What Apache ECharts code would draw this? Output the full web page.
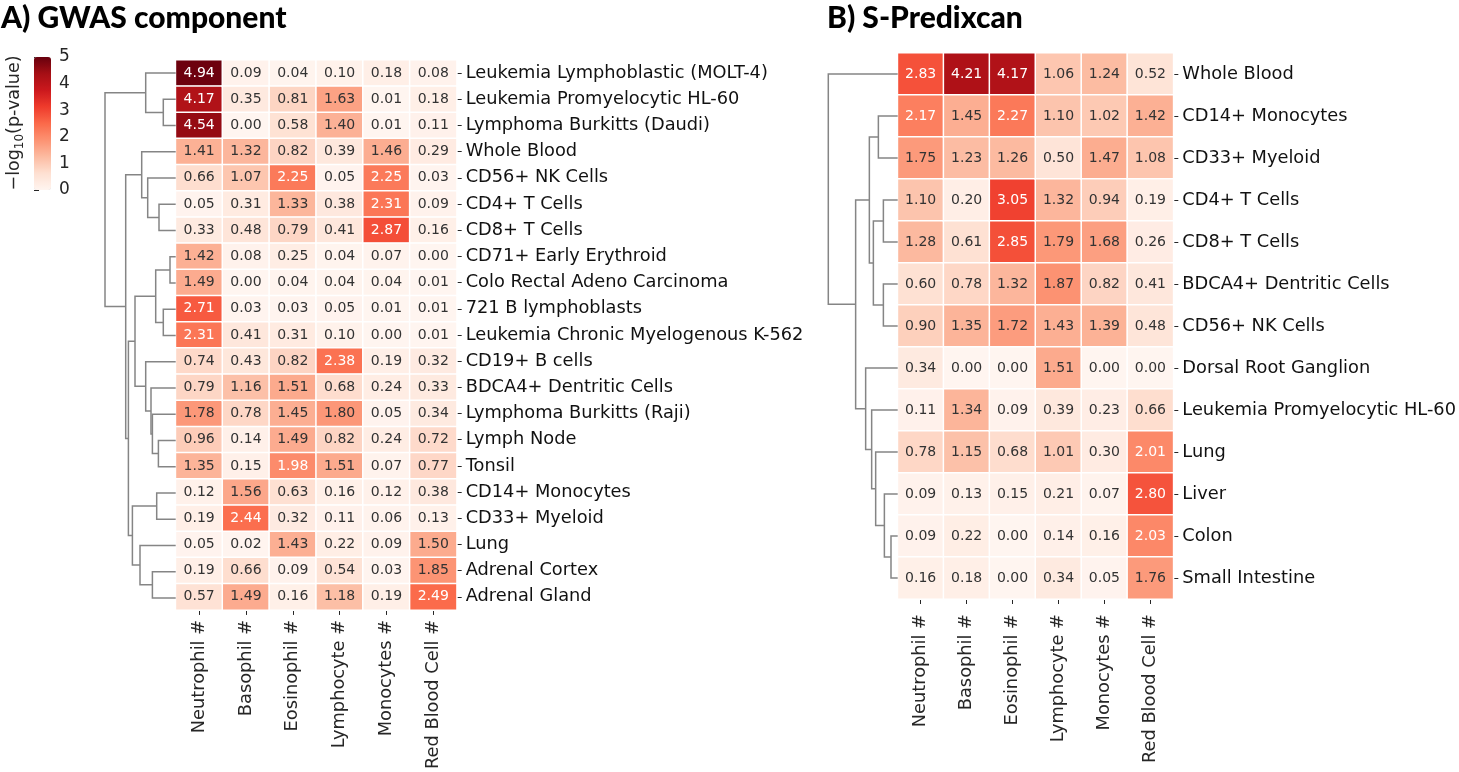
<!DOCTYPE html>
<html>
<head>
<meta charset="utf-8">
<script src="https://cdn.jsdelivr.net/npm/echarts@6/dist/echarts.min.js"></script>
<style>
html,body{margin:0;padding:0;background:#fff;}
#chart{width:1459px;height:772px;}
</style>
</head>
<body>
<div id="chart"></div>
<script>
// ---------- DATA ----------
const traits = ['Neutrophil #', 'Basophil #', 'Eosinophil #', 'Lymphocyte #', 'Monocytes #', 'Red Blood Cell #'];
const colorbarTicks = [0, 1, 2, 3, 4, 5];

// Panel A: GWAS component
const gwasTissues = [
  'Leukemia Lymphoblastic (MOLT-4)', 'Leukemia Promyelocytic HL-60', 'Lymphoma Burkitts (Daudi)',
  'Whole Blood', 'CD56+ NK Cells', 'CD4+ T Cells', 'CD8+ T Cells', 'CD71+ Early Erythroid',
  'Colo Rectal Adeno Carcinoma', '721 B lymphoblasts', 'Leukemia Chronic Myelogenous K-562',
  'CD19+ B cells', 'BDCA4+ Dentritic Cells', 'Lymphoma Burkitts (Raji)', 'Lymph Node', 'Tonsil',
  'CD14+ Monocytes', 'CD33+ Myeloid', 'Lung', 'Adrenal Cortex', 'Adrenal Gland'
];
const gwasNeutrophil  = [4.94,4.17,4.54,1.41,0.66,0.05,0.33,1.42,1.49,2.71,2.31,0.74,0.79,1.78,0.96,1.35,0.12,0.19,0.05,0.19,0.57];
const gwasBasophil    = [0.09,0.35,0.00,1.32,1.07,0.31,0.48,0.08,0.00,0.03,0.41,0.43,1.16,0.78,0.14,0.15,1.56,2.44,0.02,0.66,1.49];
const gwasEosinophil  = [0.04,0.81,0.58,0.82,2.25,1.33,0.79,0.25,0.04,0.03,0.31,0.82,1.51,1.45,1.49,1.98,0.63,0.32,1.43,0.09,0.16];
const gwasLymphocyte  = [0.10,1.63,1.40,0.39,0.05,0.38,0.41,0.04,0.04,0.05,0.10,2.38,0.68,1.80,0.82,1.51,0.16,0.11,0.22,0.54,1.18];
const gwasMonocytes   = [0.18,0.01,0.01,1.46,2.25,2.31,2.87,0.07,0.04,0.01,0.00,0.19,0.24,0.05,0.24,0.07,0.12,0.06,0.09,0.03,0.19];
const gwasRedBlood    = [0.08,0.18,0.11,0.29,0.03,0.09,0.16,0.00,0.01,0.01,0.01,0.32,0.33,0.34,0.72,0.77,0.38,0.13,1.50,1.85,2.49];
// dendrogram linkage: [child A, child B, merge height]; leaves 0..20, clusters 21..
const gwasLinkage = [
  [1,2,12.4],[0,21,30],[5,6,16.7],[4,23,28],[3,24,34],[7,8,5.7],[9,10,12.4],[26,27,20],
  [14,15,17.3],[13,29,23.3],[12,30,24.7],[11,31,30],[28,32,40.7],[16,17,19],[19,20,23.3],
  [18,35,35.7],[34,36,43.3],[33,37,47.3],[25,38,50],[22,39,70.7]
];

// Panel B: S-Predixcan
const spxTissues = [
  'Whole Blood', 'CD14+ Monocytes', 'CD33+ Myeloid', 'CD4+ T Cells', 'CD8+ T Cells',
  'BDCA4+ Dentritic Cells', 'CD56+ NK Cells', 'Dorsal Root Ganglion', 'Leukemia Promyelocytic HL-60',
  'Lung', 'Liver', 'Colon', 'Small Intestine'
];
const spxNeutrophil = [2.83,2.17,1.75,1.10,1.28,0.60,0.90,0.34,0.11,0.78,0.09,0.09,0.16];
const spxBasophil   = [4.21,1.45,1.23,0.20,0.61,0.78,1.35,0.00,1.34,1.15,0.13,0.22,0.18];
const spxEosinophil = [4.17,2.27,1.26,3.05,2.85,1.32,1.72,0.00,0.09,0.68,0.15,0.00,0.00];
const spxLymphocyte = [1.06,1.10,0.50,1.32,1.79,1.87,1.43,1.51,0.39,1.01,0.21,0.14,0.34];
const spxMonocytes  = [1.24,1.02,1.47,0.94,1.68,0.82,1.39,0.00,0.23,0.30,0.07,0.16,0.05];
const spxRedBlood   = [0.52,1.42,1.08,0.19,0.26,0.41,0.48,0.00,0.66,2.01,2.80,2.03,1.76];
const spxLinkage = [
  [11,12,6.7],[10,13,13.3],[9,14,22],[8,15,26],[7,16,32],[1,2,19.3],[3,4,14.3],[5,6,14.3],
  [19,20,24.3],[18,21,28.3],[22,17,42],[0,23,69.3]
];

// ---------- BUILD ----------
const REDS = ['#fff5f0','#fee0d2','#fcbba1','#fc9272','#fb6a4a','#ef3b2c','#cb181d','#a50f15','#67000d'];
const FONT = 'DejaVu Sans';
const TXT = '#262626';

function heatData(cols) {
  const out = [];
  cols.forEach((col, ci) => {
    col.forEach((v, ri) => {
      out.push({ value: [ci, ri, v], label: { color: v >= 1.92 ? '#ffffff' : '#333333' } });
    });
  });
  return out;
}
function dendroData(linkage, n) {
  const pos = {};
  for (let i = 0; i < n; i++) pos[i] = { y: i, h: 0 };
  const items = [];
  linkage.forEach((m, k) => {
    const a = pos[m[0]], b = pos[m[1]];
    items.push([a.h, a.y, b.h, b.y, m[2]]);
    pos[n + k] = { y: (a.y + b.y) / 2, h: m[2] };
  });
  return items;
}
function renderDendro(params, api) {
  const p1 = api.coord([api.value(0), api.value(1)]);
  const c1 = api.coord([api.value(4), api.value(1)]);
  const c2 = api.coord([api.value(4), api.value(3)]);
  const p2 = api.coord([api.value(2), api.value(3)]);
  return {
    type: 'polyline',
    shape: { points: [p1, c1, c2, p2] },
    style: { stroke: '#858585', lineWidth: 1.5, fill: null }
  };
}

const gwasCols = [gwasNeutrophil, gwasBasophil, gwasEosinophil, gwasLymphocyte, gwasMonocytes, gwasRedBlood];
const spxCols = [spxNeutrophil, spxBasophil, spxEosinophil, spxLymphocyte, spxMonocytes, spxRedBlood];
const gwasRoot = Math.max(...gwasLinkage.map(m => m[2]));
const spxRoot = Math.max(...spxLinkage.map(m => m[2]));

function catX(grid, margin) {
  return {
    gridIndex: grid, type: 'category', data: traits, position: 'bottom',
    axisLine: { show: false },
    axisTick: { show: true, length: 5, alignWithLabel: true, lineStyle: { color: TXT, width: 1 } },
    axisLabel: { rotate: 90, interval: 0, fontSize: 17.8, fontFamily: FONT, color: TXT, margin: margin },
    splitLine: { show: false }
  };
}
function catY(grid, rows, margin) {
  return {
    gridIndex: grid, type: 'category', data: rows, inverse: true, position: 'right',
    axisLine: { show: false },
    axisTick: { show: true, length: 5, alignWithLabel: true, lineStyle: { color: TXT, width: 1 } },
    axisLabel: { interval: 0, fontSize: 17.8, fontFamily: FONT, color: '#111', margin: margin },
    splitLine: { show: false }
  };
}
const heatCommon = {
  type: 'heatmap',
  label: { show: true, fontSize: 14, fontFamily: FONT, formatter: p => p.value[2].toFixed(2) },
  itemStyle: { borderColor: '#ffffff', borderWidth: 1.5 },
  emphasis: { disabled: true }
};

const option = {
  backgroundColor: '#ffffff',
  animation: false,
  title: [
    { text: 'A) GWAS component', left: 1, top: 3, padding: 0,
      textStyle: { fontFamily: 'Lato', fontWeight: 900, fontSize: 30, color: '#000' } },
    { text: 'B) S-Predixcan', left: 827, top: 3, padding: 0,
      textStyle: { fontFamily: 'Lato', fontWeight: 900, fontSize: 30, color: '#000' } }
  ],
  visualMap: {
    type: 'continuous', min: 0, max: 5, dimension: 2, seriesIndex: [0, 1],
    show: true, calculable: false, hoverLink: false, text: null,
    left: 34, top: 57, itemWidth: 17, itemHeight: 133, padding: 0,
    inRange: { color: REDS }
  },
  graphic: [{
    type: 'text', x: 14, y: 123, rotation: Math.PI / 2,
    style: {
      text: '{a|\u2212log}{s|10}{a|(p-value)}',
      align: 'center', verticalAlign: 'middle', fill: TXT,
      rich: {
        a: { fontSize: 17.5, fontFamily: FONT, fill: TXT, lineHeight: 24, verticalAlign: 'middle' },
        s: { fontSize: 12, fontFamily: FONT, fill: TXT, lineHeight: 24, verticalAlign: 'bottom' }
      }
    }
  }],
  grid: [
    { left: 34, top: 57, width: 17, height: 133 },
    { left: 105, top: 60, width: 70.7, height: 551 },
    { left: 175.7, top: 60, width: 281, height: 551 },
    { left: 828.3, top: 53, width: 69.4, height: 546 },
    { left: 897.7, top: 53, width: 277, height: 546 }
  ],
  xAxis: [
    { gridIndex: 0, type: 'value', show: false, min: 0, max: 1 },
    { gridIndex: 1, type: 'value', show: false, min: 0, max: gwasRoot, inverse: true },
    catX(2, 10),
    { gridIndex: 3, type: 'value', show: false, min: 0, max: spxRoot, inverse: true },
    catX(4, 15)
  ],
  yAxis: [
    { gridIndex: 0, type: 'value', position: 'right', min: 0, max: 5, interval: 1,
      axisLine: { show: false }, splitLine: { show: false },
      axisTick: { show: true, length: 5, lineStyle: { color: TXT } },
      axisLabel: { fontSize: 17, fontFamily: FONT, color: TXT, margin: 8,
        formatter: v => colorbarTicks.indexOf(v) >= 0 ? String(v) : '' } },
    { gridIndex: 1, type: 'value', show: false, min: -0.5, max: gwasTissues.length - 0.5, inverse: true },
    catY(2, gwasTissues, 9),
    { gridIndex: 3, type: 'value', show: false, min: -0.5, max: spxTissues.length - 0.5, inverse: true },
    catY(4, spxTissues, 9)
  ],
  series: [
    Object.assign({}, heatCommon, { xAxisIndex: 2, yAxisIndex: 2, data: heatData(gwasCols) }),
    Object.assign({}, heatCommon, { xAxisIndex: 4, yAxisIndex: 4, data: heatData(spxCols) }),
    { type: 'custom', xAxisIndex: 1, yAxisIndex: 1, renderItem: renderDendro,
      dimensions: ['h0','y0','h1','y1','h'], encode: { x: [0, 2, 4], y: [1, 3] },
      data: dendroData(gwasLinkage, gwasTissues.length), silent: true },
    { type: 'custom', xAxisIndex: 3, yAxisIndex: 3, renderItem: renderDendro,
      dimensions: ['h0','y0','h1','y1','h'], encode: { x: [0, 2, 4], y: [1, 3] },
      data: dendroData(spxLinkage, spxTissues.length), silent: true },
    { type: 'line', xAxisIndex: 0, yAxisIndex: 0, data: [], silent: true }
  ]
};
const chart = echarts.init(document.getElementById('chart'), null, { renderer: 'canvas' });
chart.setOption(option);
</script>
</body>
</html>
